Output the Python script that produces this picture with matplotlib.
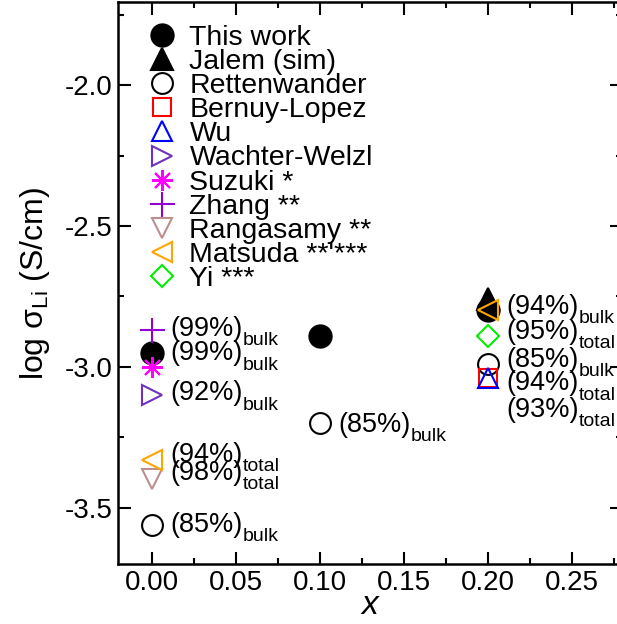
import matplotlib
matplotlib.use("Agg")
import matplotlib.pyplot as plt
from matplotlib.ticker import MultipleLocator, FormatStrFormatter

matplotlib.rcParams.update({
    "font.family": "Liberation Sans",
    "mathtext.fontset": "custom",
    "mathtext.rm": "Liberation Sans",
    "mathtext.it": "Liberation Sans:italic",
    "mathtext.bf": "Liberation Sans:bold",
})

# conductivity data, log10(sigma / S cm^-1) vs x
this_x = [0.0, 0.1, 0.2]
this_y = [-2.95, -2.89, -2.80]
jalem_x = [0.2]
jalem_y = [-2.76]
rett_x = [0.0, 0.1, 0.2]
rett_y = [-3.56, -3.20, -2.99]
bernuy_x = [0.2]
bernuy_y = [-3.04]
wu_x = [0.2]
wu_y = [-3.04]
wachter_x = [0.0]
wachter_y = [-3.10]
suzuki_x = [0.0]
suzuki_y = [-3.00]
zhang_x = [0.0]
zhang_y = [-2.87]
rangasamy_x = [0.0]
rangasamy_y = [-3.40]
matsuda_x = [0.0, 0.2]
matsuda_y = [-3.33, -2.80]
yi_x = [0.2]
yi_y = [-2.89]

# relative density notes (x, baseline y, density %, conductivity type)
note_x = [0.0, 0.0, 0.0, 0.0, 0.0, 0.0, 0.1, 0.2, 0.2, 0.2, 0.2, 0.2]
note_y = [-2.89, -2.977, -3.119, -3.337, -3.402, -3.585, -3.231,
          -2.811, -2.900, -3.000, -3.083, -3.178]
note_pct = [99, 99, 92, 94, 98, 85, 85, 94, 95, 85, 94, 93]
note_kind = ["bulk", "bulk", "bulk", "total", "total", "bulk", "bulk",
             "bulk", "total", "bulk", "total", "total"]

series = [
    ("This work", this_x, this_y, dict(marker="o", ms=16, mfc="black", mec="black")),
    ("Jalem (sim)", jalem_x, jalem_y, dict(marker="^", ms=16, mfc="black", mec="black")),
    ("Rettenwander", rett_x, rett_y, dict(marker="o", ms=15, mfc="none", mec="black")),
    ("Bernuy-Lopez", bernuy_x, bernuy_y, dict(marker="s", ms=13, mfc="none", mec="red")),
    ("Wu", wu_x, wu_y, dict(marker="^", ms=15, mfc="none", mec="blue")),
    ("Wachter-Welzl", wachter_x, wachter_y, dict(marker=">", ms=15, mfc="none", mec="#7030c0")),
    ("Suzuki *", suzuki_x, suzuki_y, dict(marker=(8, 2, 0), ms=15, mfc="none", mec="#ff00ff")),
    ("Zhang **", zhang_x, zhang_y, dict(marker="+", ms=18, mfc="none", mec="#9400d3")),
    ("Rangasamy **", rangasamy_x, rangasamy_y, dict(marker="v", ms=15, mfc="none", mec="#bc8f8f")),
    ("Matsuda **'***", matsuda_x, matsuda_y, dict(marker="<", ms=15, mfc="none", mec="#ffa500")),
    ("Yi ***", yi_x, yi_y, dict(marker="D", ms=11.5, mfc="none", mec="#00ee00")),
]

fig = plt.figure(figsize=(6.17, 6.24), dpi=100)
ax = fig.add_axes([0.1914, 0.0962, 0.8169, 0.9006])

for label, xs, ys, style in series:
    ax.plot(xs, ys, linestyle="none", mew=1.5, label=label, **style)

# "(NN%)" followed by a dropped subscript placed right after the main text
for x, y, pct, kind in zip(note_x, note_y, note_pct, note_kind):
    main = ax.text(x + 0.011, y, f"({pct}%)", fontsize=19.5,
                   ha="left", va="baseline")
    ax.annotate(kind, xy=(1.0, 0.0), xycoords=main, xytext=(0.0, -2.5),
                textcoords="offset points", fontsize=14,
                ha="left", va="baseline")

ax.set_xlim(-0.02, 0.28)
ax.set_ylim(-3.7, -1.705)
ax.xaxis.set_major_locator(MultipleLocator(0.05))
ax.xaxis.set_minor_locator(MultipleLocator(0.025))
ax.yaxis.set_major_locator(MultipleLocator(0.5))
ax.yaxis.set_minor_locator(MultipleLocator(0.25))
ax.xaxis.set_major_formatter(FormatStrFormatter("%.2f"))
ax.yaxis.set_major_formatter(FormatStrFormatter("%.1f"))
ax.tick_params(which="both", direction="in", top=True, right=True,
               labelsize=20, width=1.5, pad=4)
ax.tick_params(which="major", length=9)
ax.tick_params(which="minor", length=4.5)
for sp in ax.spines.values():
    sp.set_linewidth(1.8)

ax.set_xlabel("$\\it{x}$", fontsize=24, labelpad=-4)
ax.set_ylabel("log σ$_{\\rm Li}$ (S/cm)", fontsize=23, labelpad=9)

ax.legend(loc="upper left", bbox_to_anchor=(0.02, 0.995), frameon=False,
          fontsize=20.5, numpoints=1, handlelength=1.0, handletextpad=0.45,
          labelspacing=-0.065, borderaxespad=0.3)

fig.savefig("out.png", dpi=100)
